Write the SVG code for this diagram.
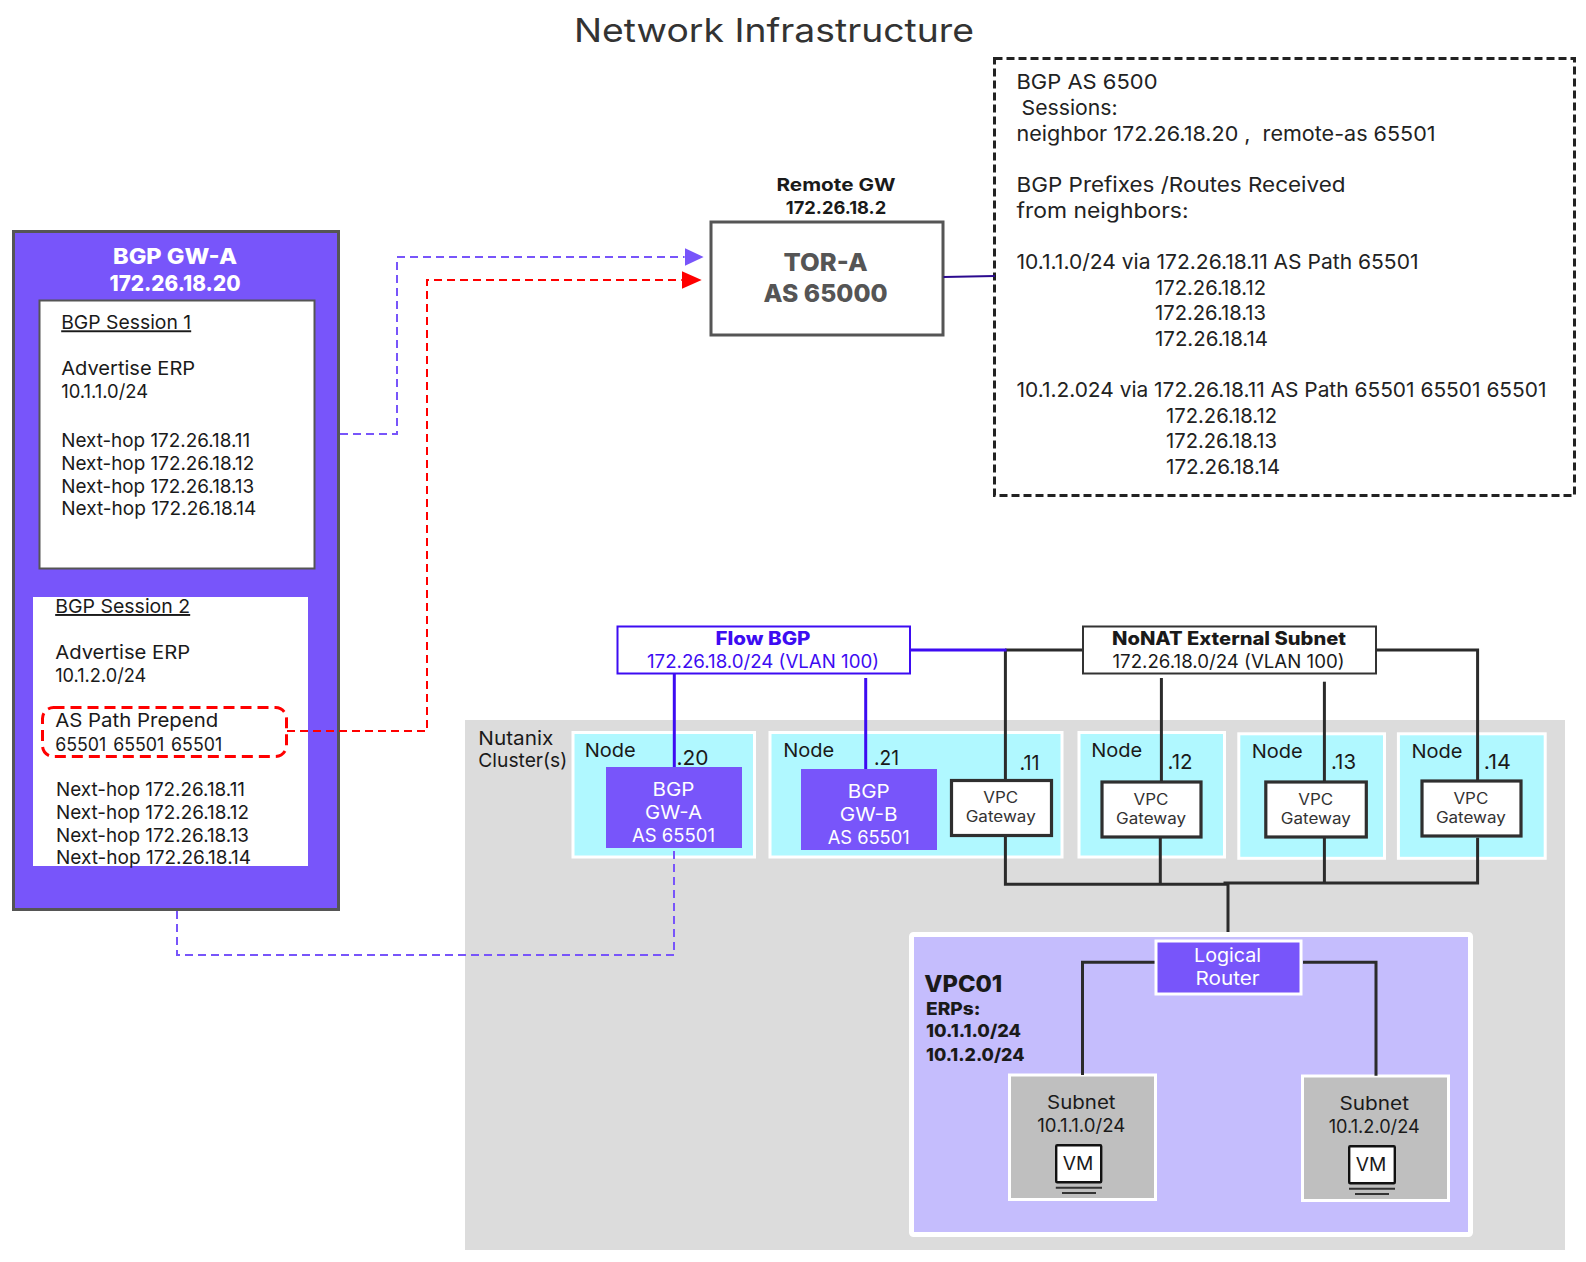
<svg xmlns="http://www.w3.org/2000/svg" width="1586" height="1262" viewBox="0 0 1586 1262">
<style>
text{font-family:"Inter","Liberation Sans",sans-serif;fill:#1a1a1a;font-size:19.3px}
.m{text-anchor:middle}
.b{font-weight:700}
.x{font-weight:800}
.w{fill:#fff}
.u{text-decoration:underline}
.d{font-size:20.6px;fill:#222}
.h{font-size:20.6px}
.s{font-size:15.2px;fill:#333}
.n{font-size:18.5px}
.node{fill:#b0f8ff;stroke:#fff;stroke-width:3}
.gw{fill:#fff;stroke:#2f2f2f;stroke-width:3.2}
.bgp{fill:#7855fa}
.subnet{fill:#bfbfbf;stroke:#fff;stroke-width:3}
.vm{fill:#fff;stroke:#111;stroke-width:2.4}
.vl{stroke:#333;stroke-width:2;fill:none}
.c{fill:none;stroke-width:3}
.k{stroke:#2b2b2b}
.bl{stroke:#3d0cf2}
.pd{stroke:#7855fa;stroke-width:2;stroke-dasharray:8 5}
.rd{stroke:#f00;stroke-width:2;stroke-dasharray:8 5}
.ix{stroke:#2b0a8f;stroke-width:2}
</style>
<defs>
<marker id="ap" markerUnits="userSpaceOnUse" markerWidth="19" markerHeight="18" refX="0" refY="9" orient="auto"><path d="M0 0L19 9L0 18Z" fill="#7855fa"/></marker>
<marker id="ar" markerUnits="userSpaceOnUse" markerWidth="20" markerHeight="18" refX="0" refY="9" orient="auto"><path d="M0 0L20 9L0 18Z" fill="#f00"/></marker>
</defs>
<rect id="cluster-bg" x="465" y="720" width="1100" height="530" fill="#dcdcdc"/>
<text id="title" x="774" y="42" class="m" style="font-size:33px;fill:#333" textLength="400" lengthAdjust="spacingAndGlyphs">Network Infrastructure</text>

<g id="bgp-gw-a-panel">
<rect x="13.5" y="231.5" width="325" height="678" fill="#7855fa" stroke="#555" stroke-width="3"/>
<text x="175" y="263.5" class="m x w" style="font-size:21.5px" textLength="124" lengthAdjust="spacingAndGlyphs">BGP GW-A</text>
<text x="175" y="291" class="m x w" style="font-size:21.5px" textLength="131" lengthAdjust="spacingAndGlyphs">172.26.18.20</text>
</g>
<g id="bgp-session-1">
<rect x="39.5" y="300.5" width="275" height="268" fill="#fff" stroke="#555" stroke-width="2"/>
<text x="61.2" y="329.3" class="u" textLength="130" lengthAdjust="spacingAndGlyphs">BGP Session 1</text>
<text x="61.2" y="375" textLength="134" lengthAdjust="spacingAndGlyphs">Advertise ERP</text>
<text x="61.2" y="398" textLength="87" lengthAdjust="spacingAndGlyphs">10.1.1.0/24</text>
<text x="61.2" y="447" textLength="189" lengthAdjust="spacingAndGlyphs">Next-hop 172.26.18.11</text>
<text x="61.2" y="470" textLength="193" lengthAdjust="spacingAndGlyphs">Next-hop 172.26.18.12</text>
<text x="61.2" y="493" textLength="193" lengthAdjust="spacingAndGlyphs">Next-hop 172.26.18.13</text>
<text x="61.2" y="515" textLength="195" lengthAdjust="spacingAndGlyphs">Next-hop 172.26.18.14</text>
</g>
<g id="bgp-session-2">
<rect x="33" y="597" width="275" height="269" fill="#fff"/>
<text x="55.2" y="613" class="u" textLength="135" lengthAdjust="spacingAndGlyphs">BGP Session 2</text>
<text x="55.2" y="659" textLength="135" lengthAdjust="spacingAndGlyphs">Advertise ERP</text>
<text x="55.2" y="682" textLength="91" lengthAdjust="spacingAndGlyphs">10.1.2.0/24</text>
<text x="55.2" y="726.5" textLength="163" lengthAdjust="spacingAndGlyphs">AS Path Prepend</text>
<text x="55.2" y="750.5" textLength="167" lengthAdjust="spacingAndGlyphs" style="word-spacing:2px">65501 65501 65501</text>
<text x="56" y="796" textLength="189" lengthAdjust="spacingAndGlyphs">Next-hop 172.26.18.11</text>
<text x="56" y="819" textLength="193" lengthAdjust="spacingAndGlyphs">Next-hop 172.26.18.12</text>
<text x="56" y="841.5" textLength="193" lengthAdjust="spacingAndGlyphs">Next-hop 172.26.18.13</text>
<text x="56" y="864" textLength="195" lengthAdjust="spacingAndGlyphs">Next-hop 172.26.18.14</text>
</g>
<g id="as-path-prepend">
<rect x="42.5" y="707.5" width="244" height="49" rx="11" fill="none" stroke="#f00" stroke-width="3" stroke-dasharray="11 6"/>
</g>

<g id="tor-a">
<text x="836" y="191" class="m b" style="font-size:17.5px" textLength="119" lengthAdjust="spacingAndGlyphs">Remote GW</text>
<text x="836" y="214" class="m b" style="font-size:17.5px" textLength="100.5" lengthAdjust="spacingAndGlyphs">172.26.18.2</text>
<rect x="715" y="222" width="232" height="113" fill="#fff" stroke="#555" stroke-width="3" transform="translate(-4,0)"/>
<text x="825.6" y="270.5" class="m x" style="font-size:24.5px;fill:#555" textLength="84" lengthAdjust="spacingAndGlyphs">TOR-A</text>
<text x="825.6" y="302" class="m x" style="font-size:24.5px;fill:#555" textLength="124" lengthAdjust="spacingAndGlyphs">AS 65000</text>
</g>

<g id="bgp-info">
<rect x="994.5" y="58.5" width="580" height="437" fill="#fff" stroke="#222" stroke-width="3" stroke-dasharray="8 4"/>
<text x="1016.5" y="89" class="d" textLength="141" lengthAdjust="spacingAndGlyphs">BGP AS 6500</text>
<text x="1021.6" y="114.7" class="d" textLength="96" lengthAdjust="spacingAndGlyphs">Sessions:</text>
<text x="1016.5" y="140.7" class="d" textLength="419" lengthAdjust="spacingAndGlyphs" xml:space="preserve">neighbor 172.26.18.20 ,  remote-as 65501</text>
<text x="1016.5" y="191.7" class="d" textLength="329" lengthAdjust="spacingAndGlyphs">BGP Prefixes /Routes Received</text>
<text x="1016.5" y="217.7" class="d" textLength="172" lengthAdjust="spacingAndGlyphs">from neighbors:</text>
<text x="1016.5" y="268.7" class="d" textLength="402" lengthAdjust="spacingAndGlyphs">10.1.1.0/24 via 172.26.18.11 AS Path 65501</text>
<text x="1155" y="294.7" class="d" textLength="111" lengthAdjust="spacingAndGlyphs">172.26.18.12</text>
<text x="1155" y="319.7" class="d" textLength="111" lengthAdjust="spacingAndGlyphs">172.26.18.13</text>
<text x="1155" y="345.7" class="d" textLength="113" lengthAdjust="spacingAndGlyphs">172.26.18.14</text>
<text x="1016.5" y="396.7" class="d" textLength="530" lengthAdjust="spacingAndGlyphs">10.1.2.024 via 172.26.18.11 AS Path 65501 65501 65501</text>
<text x="1166" y="422.7" class="d" textLength="111" lengthAdjust="spacingAndGlyphs">172.26.18.12</text>
<text x="1166" y="447.7" class="d" textLength="111" lengthAdjust="spacingAndGlyphs">172.26.18.13</text>
<text x="1166" y="473.7" class="d" textLength="114" lengthAdjust="spacingAndGlyphs">172.26.18.14</text>
</g>

<g id="flow-bgp">
<rect x="617.5" y="626.5" width="292.5" height="47" fill="#fff" stroke="#3d0cf2" stroke-width="2"/>
<text x="763" y="645" class="m x" style="font-size:18.3px;fill:#3d0cf2" textLength="95" lengthAdjust="spacingAndGlyphs">Flow BGP</text>
<text x="763" y="668" class="m" style="font-size:18.5px;fill:#3d0cf2" textLength="232" lengthAdjust="spacingAndGlyphs">172.26.18.0/24 (VLAN 100)</text>
</g>
<g id="nonat-subnet">
<rect x="1083" y="626.5" width="293" height="47" fill="#fff" stroke="#333" stroke-width="2"/>
<text x="1229" y="645" class="m x" style="font-size:18.3px" textLength="234" lengthAdjust="spacingAndGlyphs">NoNAT External Subnet</text>
<text x="1228.5" y="668" class="m" style="font-size:18.5px" textLength="232" lengthAdjust="spacingAndGlyphs">172.26.18.0/24 (VLAN 100)</text>
</g>

<g id="cluster-label">
<text x="478.3" y="745" textLength="75" lengthAdjust="spacingAndGlyphs">Nutanix</text>
<text x="478.3" y="767" textLength="89" lengthAdjust="spacingAndGlyphs">Cluster(s)</text>
</g>

<g id="node-20">
<rect class="node" x="573" y="732.5" width="181.5" height="124.5"/>
<text x="584.7" y="757" textLength="51" lengthAdjust="spacingAndGlyphs">Node</text>
<text x="676.5" y="765" class="h" textLength="32" lengthAdjust="spacingAndGlyphs">.20</text>
<rect class="bgp" x="606" y="767" width="136" height="81"/>
<text x="673.5" y="795.7" class="m w n" textLength="42" lengthAdjust="spacingAndGlyphs">BGP</text>
<text x="673.5" y="819" class="m w n" textLength="57" lengthAdjust="spacingAndGlyphs">GW-A</text>
<text x="673.5" y="842" class="m w n" textLength="83" lengthAdjust="spacingAndGlyphs">AS 65501</text>
</g>
<g id="node-21">
<rect class="node" x="770" y="732.5" width="292" height="124.5"/>
<text x="783.2" y="757" textLength="51" lengthAdjust="spacingAndGlyphs">Node</text>
<text x="874" y="765" class="h" textLength="25" lengthAdjust="spacingAndGlyphs">.21</text>
<rect class="bgp" x="801" y="769" width="136" height="81"/>
<text x="868.7" y="798" class="m w n" textLength="42" lengthAdjust="spacingAndGlyphs">BGP</text>
<text x="868.7" y="821" class="m w n" textLength="58" lengthAdjust="spacingAndGlyphs">GW-B</text>
<text x="868.7" y="844" class="m w n" textLength="82" lengthAdjust="spacingAndGlyphs">AS 65501</text>
<rect class="gw" x="951.5" y="780.5" width="100" height="55"/>
<text x="1000.7" y="803" class="m s" textLength="35" lengthAdjust="spacingAndGlyphs">VPC</text>
<text x="1000.7" y="822" class="m s" textLength="70" lengthAdjust="spacingAndGlyphs">Gateway</text>
<text x="1019.5" y="770" class="h" textLength="20" lengthAdjust="spacingAndGlyphs">.11</text>
</g>
<g id="node-12">
<rect class="node" x="1079" y="732.5" width="145.5" height="124.5"/>
<text x="1091.2" y="757" textLength="51" lengthAdjust="spacingAndGlyphs">Node</text>
<text x="1167.5" y="769" class="h" textLength="25" lengthAdjust="spacingAndGlyphs">.12</text>
<rect class="gw" x="1102" y="782" width="99" height="55"/>
<text x="1151" y="805" class="m s" textLength="35" lengthAdjust="spacingAndGlyphs">VPC</text>
<text x="1151" y="824" class="m s" textLength="70" lengthAdjust="spacingAndGlyphs">Gateway</text>
</g>
<g id="node-13">
<rect class="node" x="1238.8" y="733.8" width="145.7" height="124.5"/>
<text x="1251.8" y="758" textLength="51" lengthAdjust="spacingAndGlyphs">Node</text>
<text x="1331" y="769" class="h" textLength="25" lengthAdjust="spacingAndGlyphs">.13</text>
<rect class="gw" x="1265.8" y="782" width="100.5" height="55"/>
<text x="1315.8" y="805" class="m s" textLength="35" lengthAdjust="spacingAndGlyphs">VPC</text>
<text x="1315.8" y="824" class="m s" textLength="70" lengthAdjust="spacingAndGlyphs">Gateway</text>
</g>
<g id="node-14">
<rect class="node" x="1398.4" y="733.8" width="146.8" height="124.5"/>
<text x="1411.4" y="758" textLength="51" lengthAdjust="spacingAndGlyphs">Node</text>
<text x="1483.8" y="769" class="h" textLength="27" lengthAdjust="spacingAndGlyphs">.14</text>
<rect class="gw" x="1422" y="781" width="99" height="55"/>
<text x="1470.9" y="804" class="m s" textLength="35" lengthAdjust="spacingAndGlyphs">VPC</text>
<text x="1470.9" y="823" class="m s" textLength="70" lengthAdjust="spacingAndGlyphs">Gateway</text>
</g>

<g id="vpc01">
<rect x="911.5" y="934.5" width="559" height="300" rx="2" fill="#c5bdfd" stroke="#fff" stroke-width="5"/>
<text x="924.3" y="991.8" class="x" style="font-size:22.5px" textLength="78" lengthAdjust="spacingAndGlyphs">VPC01</text>
<text x="926" y="1015" class="x" style="font-size:17.5px" textLength="54.5" lengthAdjust="spacingAndGlyphs">ERPs:</text>
<text x="926" y="1036.7" class="x" style="font-size:17.5px" textLength="95" lengthAdjust="spacingAndGlyphs">10.1.1.0/24</text>
<text x="926" y="1060.7" class="x" style="font-size:17.5px" textLength="98.5" lengthAdjust="spacingAndGlyphs">10.1.2.0/24</text>
</g>
<g id="logical-router">
<rect x="1156" y="941" width="145" height="53" fill="#7855fa" stroke="#fff" stroke-width="3"/>
<text x="1227.6" y="961.7" class="m w n" textLength="67" lengthAdjust="spacingAndGlyphs">Logical</text>
<text x="1227.6" y="985" class="m w n" textLength="64" lengthAdjust="spacingAndGlyphs">Router</text>
</g>
<g id="subnet-1">
<rect class="subnet" x="1009.5" y="1075" width="146" height="124.5"/>
<text x="1081.3" y="1109" class="m n" textLength="68.5" lengthAdjust="spacingAndGlyphs">Subnet</text>
<text x="1081.3" y="1132.3" class="m n" textLength="88" lengthAdjust="spacingAndGlyphs">10.1.1.0/24</text>
<rect class="vm" x="1056.2" y="1145.2" width="45" height="37" rx="1"/>
<text x="1078" y="1170" class="m n" textLength="30.6" lengthAdjust="spacingAndGlyphs">VM</text>
<path class="vl" d="M1055.8 1187.7H1102M1062 1193H1096"/>
</g>
<g id="subnet-2">
<rect class="subnet" x="1302.5" y="1076" width="146" height="124.5"/>
<text x="1374.2" y="1110" class="m n" textLength="69.5" lengthAdjust="spacingAndGlyphs">Subnet</text>
<text x="1374.2" y="1133" class="m n" textLength="91" lengthAdjust="spacingAndGlyphs">10.1.2.0/24</text>
<rect class="vm" x="1349.2" y="1146.2" width="45.6" height="37" rx="1"/>
<text x="1371" y="1171" class="m n" textLength="30.6" lengthAdjust="spacingAndGlyphs">VM</text>
<path class="vl" d="M1349 1188.7H1395M1355 1194H1389"/>
</g>

<g id="connectors">
<path class="c pd" d="M340 434H397V257H684.6" marker-end="url(#ap)"/>
<path class="c rd" d="M287 731H427V280H681.7" marker-end="url(#ar)"/>
<path class="c pd" d="M177 911V955H674V848"/>
<path class="c ix" d="M943.5 277L995 276"/>
<path class="c k" d="M1005.4 650V779"/>
<path class="c k" d="M1005 650H1082"/>
<path class="c bl" d="M910 650H1006.5"/>
<path class="c bl" d="M674.3 674V767"/>
<path class="c bl" d="M865.7 678V769"/>
<path class="c k" d="M1376 650H1477.6V780"/>
<path class="c k" d="M1161.4 678V781"/>
<path class="c k" d="M1324.4 681.7V781"/>
<path class="c k" d="M1005.4 837V884.3H1228"/>
<path class="c k" d="M1160.3 838V884"/>
<path class="c k" d="M1223.5 883H1477.6V837.7"/>
<path class="c k" d="M1324.4 838V883"/>
<path class="c k" d="M1228 883V932"/>
<path class="c k" d="M1154.5 962.3H1082.5V1075"/>
<path class="c k" d="M1303 962.3H1376V1075.7"/>
</g>
</svg>
